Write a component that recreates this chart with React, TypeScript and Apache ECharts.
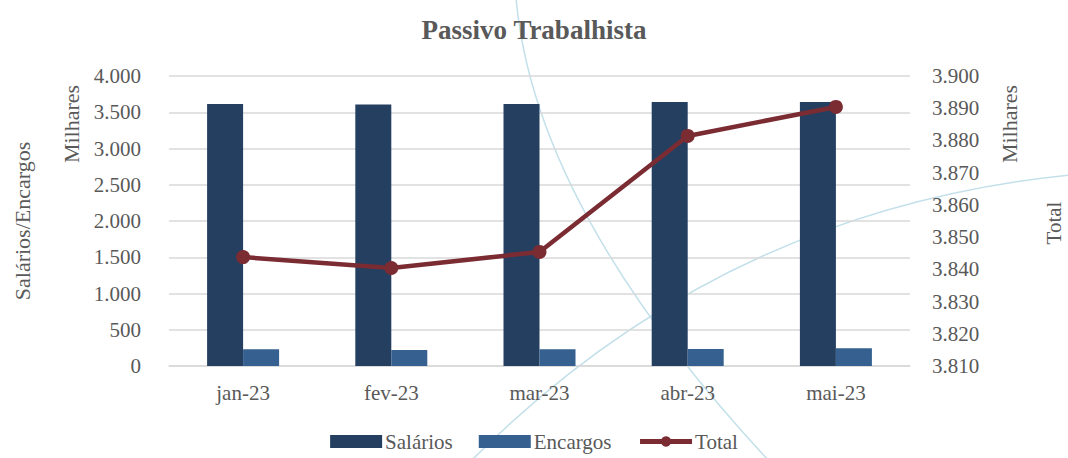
import React, { useEffect, useRef } from "react";
import * as echarts from "echarts";

const categories = ["jan-23", "fev-23", "mar-23", "abr-23", "mai-23"];
const salarios = [3614, 3607, 3614, 3641, 3641];
const encargos = [230, 221, 230, 234, 244];
const total = [3843.8, 3840.4, 3845.4, 3881.4, 3890.4];

const FONT = "'Liberation Serif', 'DejaVu Serif', serif";
const TXT = "#595959";

const fmt = (v: number) => {
  const s = Math.round(v).toString();
  return s.replace(/\B(?=(\d{3})+(?!\d))/g, ".");
};

export default function App() {
  const ref = useRef<HTMLDivElement>(null);
  useEffect(() => {
    if (!ref.current) return;
    const chart = echarts.init(ref.current, null, { renderer: "svg" });
    const sideText = (text: string, x: number, y: number, size: number) => ({
      type: "text",
      x,
      y,
      rotation: Math.PI / 2,
      style: { text, fontFamily: FONT, fontSize: size, fill: TXT, align: "center", verticalAlign: "middle" },
    });
    chart.setOption({
      animation: false,
      backgroundColor: "#ffffff",
      textStyle: { fontFamily: FONT },
      title: {
        text: "Passivo Trabalhista",
        left: "center",
        top: 11,
        textStyle: { fontFamily: FONT, fontSize: 27, fontWeight: "bold", color: TXT },
      },
      graphic: [
        {
          type: "bezierCurve",
          z: -10,
          silent: true,
          shape: { x1: 516, y1: -2, cpx1: 535, cpy1: 210, x2: 770, y2: 462 },
          style: { stroke: "#C3E0EA", lineWidth: 1.5, fill: null },
        },
        {
          type: "bezierCurve",
          z: -10,
          silent: true,
          shape: { x1: 470, y1: 462, cpx1: 720, cpy1: 210, x2: 1070, y2: 175 },
          style: { stroke: "#C3E0EA", lineWidth: 1.5, fill: null },
        },
        sideText("Salários/Encargos", 22, 221, 22),
        sideText("Milhares", 71, 124, 22),
        sideText("Milhares", 1009, 124, 22),
        sideText("Total", 1054, 223, 21),
      ],
      legend: {
        bottom: 1,
        left: "center",
        itemWidth: 52,
        itemHeight: 13,
        itemGap: 26,
        textStyle: { fontFamily: FONT, fontSize: 21, color: TXT, padding: [0, 0, 0, -2] },
        data: [
          { name: "Salários", icon: "rect" },
          { name: "Encargos", icon: "rect" },
          { name: "Total", lineStyle: { width: 5 } },
        ],
      },
      grid: { left: 169, right: 158, top: 76, bottom: 92, containLabel: false },
      xAxis: {
        type: "category",
        data: categories,
        axisTick: { show: false },
        axisLine: { lineStyle: { color: "#D9D9D9", width: 1.5 } },
        axisLabel: { fontFamily: FONT, fontSize: 21, color: TXT, margin: 16 },
      },
      yAxis: [
        {
          type: "value",
          min: 0,
          max: 4000,
          interval: 500,
          axisLine: { show: false },
          axisTick: { show: false },
          splitLine: { lineStyle: { color: "#D9D9D9", width: 1.5 } },
          axisLabel: { fontFamily: FONT, fontSize: 21, color: TXT, margin: 28, formatter: fmt },
        },
        {
          type: "value",
          min: 3810,
          max: 3900,
          interval: 10,
          axisLine: { show: false },
          axisTick: { show: false },
          splitLine: { show: false },
          axisLabel: { fontFamily: FONT, fontSize: 21, color: TXT, margin: 22, formatter: fmt },
        },
      ],
      series: [
        {
          name: "Salários",
          type: "bar",
          data: salarios,
          barWidth: 36,
          barGap: "0%",
          itemStyle: { color: "#243F60" },
        },
        {
          name: "Encargos",
          type: "bar",
          data: encargos,
          barWidth: 36,
          barGap: "0%",
          itemStyle: { color: "#35608F" },
        },
        {
          name: "Total",
          type: "line",
          yAxisIndex: 1,
          data: total,
          symbol: "circle",
          symbolSize: 14,
          lineStyle: { color: "#7B2C33", width: 4.5 },
          itemStyle: { color: "#7B2C33" },
          z: 5,
        },
      ],
    });
    return () => chart.dispose();
  }, []);
  return (
    <div
      ref={ref}
      style={{ position: "fixed", left: 0, top: 0, width: 1068, height: 458 }}
    />
  );
}
